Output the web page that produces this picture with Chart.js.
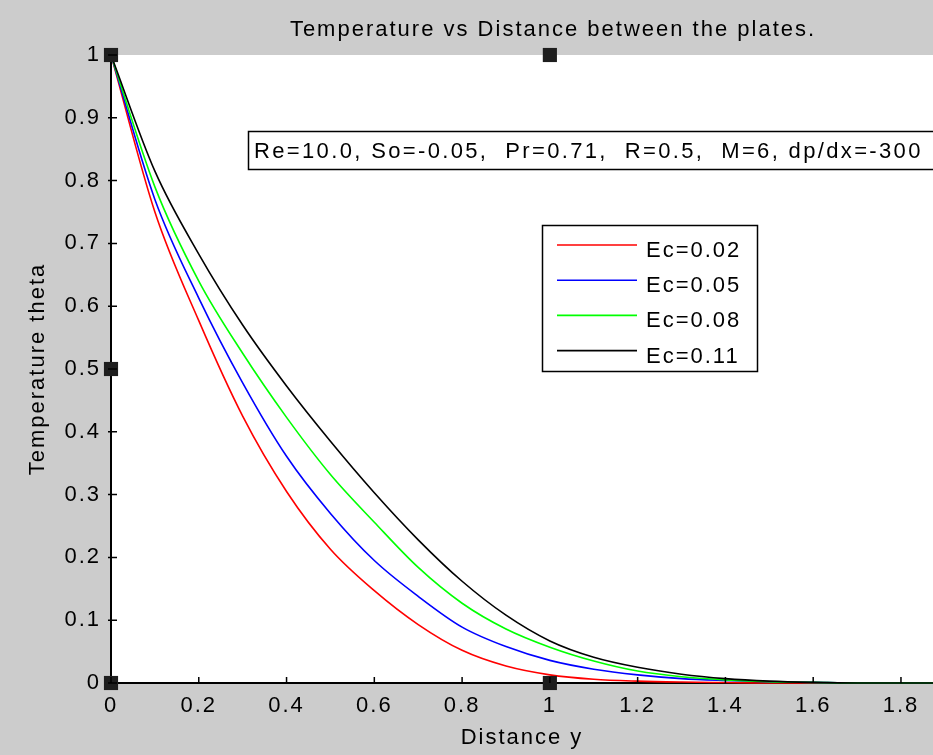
<!DOCTYPE html>
<html><head><meta charset="utf-8">
<script src="https://cdn.jsdelivr.net/npm/chart.js@4"></script>
<style>html,body{margin:0;padding:0;background:#cccccc;overflow:hidden}</style>
</head><body>
<div style="width:933px;height:755px;position:relative"><canvas id="c" width="933" height="755"></canvas></div>
<script>
// ---- data ----
const xValues = [0,0.1,0.2,0.3,0.4,0.5,0.6,0.7,0.8,0.9,1.0,1.1,1.2,1.3,1.4,1.5,1.6,1.7,1.8,1.873];
const thetaEc002 = [1,0.75,0.577,0.425,0.305,0.213,0.147,0.093,0.052,0.027,0.013,0.006,0.003,0.0015,0.0007,0,0,0,0,0];
const thetaEc005 = [1,0.77,0.613,0.478,0.361,0.27,0.195,0.138,0.089,0.058,0.036,0.022,0.013,0.007,0.004,0.002,0.001,0,0,0];
const thetaEc008 = [1,0.79,0.64,0.525,0.423,0.332,0.256,0.184,0.127,0.086,0.057,0.035,0.019,0.01,0.005,0.002,0.001,0,0,0];
const thetaEc011 = [1,0.815,0.683,0.57,0.473,0.385,0.303,0.228,0.162,0.108,0.067,0.041,0.025,0.014,0.007,0.003,0.001,0,0,0];
const seriesLabels = ['Ec=0.02','Ec=0.05','Ec=0.08','Ec=0.11'];
const seriesColors = ['#ff0000','#0000ff','#00ff00','#000000'];
const xTicks = [0,0.2,0.4,0.6,0.8,1,1.2,1.4,1.6,1.8];
const xTickLabels = ['0','0.2','0.4','0.6','0.8','1','1.2','1.4','1.6','1.8'];
const yTicks = [0,0.1,0.2,0.3,0.4,0.5,0.6,0.7,0.8,0.9,1];
const yTickLabels = ['0','0.1','0.2','0.3','0.4','0.5','0.6','0.7','0.8','0.9','1'];
const handleX = [0,1,0,0,1];
const handleY = [1,1,0.5,0,0];
const chartTitle = 'Temperature vs Distance between the plates.';
const paramText = 'Re=10.0, So=-0.05,  Pr=0.71,  R=0.5,  M=6, dp/dx=-300';
const xTitle = 'Distance y';
const yTitle = 'Temperature theta';

const FONT = '"Liberation Sans", Arial, sans-serif';
Chart.defaults.font.family = FONT;
Chart.defaults.font.size = 22;
Chart.defaults.color = '#000';

const seriesValues = [thetaEc002, thetaEc005, thetaEc008, thetaEc011];
const datasets = seriesValues.map((vals, i) => ({
  label: seriesLabels[i],
  data: xValues.map((x, j) => ({x: x, y: vals[j]})),
  borderColor: seriesColors[i],
  backgroundColor: seriesColors[i],
  borderWidth: 1.6,
  pointRadius: 0,
  cubicInterpolationMode: 'monotone',
  order: 4 - i,
  clip: false
}));
datasets.push({
  label: 'handles',
  data: handleX.map((x, j) => ({x: x, y: handleY[j]})),
  showLine: false,
  pointStyle: 'rect',
  pointRadius: 10,
  pointBackgroundColor: '#1e1e1e',
  pointBorderColor: '#1e1e1e',
  pointBorderWidth: 0,
  order: 0,
  clip: false
});

const spacing = '2px';
const decor = {
  id: 'decor',
  beforeUpdate(chart) { chart.ctx.letterSpacing = spacing; },
  beforeDraw(chart) {
    const ctx = chart.ctx, a = chart.chartArea;
    ctx.save();
    ctx.fillStyle = '#cccccc';
    ctx.fillRect(0, 0, chart.width, chart.height);
    ctx.fillStyle = '#ffffff';
    ctx.fillRect(a.left, a.top, a.right - a.left, a.bottom - a.top);
    ctx.restore();
    ctx.letterSpacing = spacing;
  },
  afterDatasetsDraw(chart) {
    const ctx = chart.ctx, a = chart.chartArea;
    const xs = chart.scales.x, ys = chart.scales.y;
    ctx.save();
    ctx.strokeStyle = '#000';
    ctx.lineWidth = 1.5;
    ctx.beginPath();
    xTicks.forEach(v => { const p = xs.getPixelForValue(v); ctx.moveTo(p, a.bottom); ctx.lineTo(p, a.bottom - 6); });
    yTicks.forEach(v => { const p = ys.getPixelForValue(v); ctx.moveTo(a.left - 3, p); ctx.lineTo(a.left + 6, p); });
    ctx.stroke();

    ctx.fillStyle = '#000';
    ctx.font = '22px ' + FONT;
    ctx.textBaseline = 'middle';
    // title
    ctx.letterSpacing = spacing;
    ctx.textAlign = 'center';
    ctx.fillText(chartTitle, 553, 30);
    // parameter box
    ctx.textAlign = 'left';
    ctx.fillStyle = '#fff';
    ctx.fillRect(248, 131, 700, 39);
    ctx.strokeStyle = '#000';
    ctx.lineWidth = 1.5;
    ctx.strokeRect(248.5, 131.5, 700, 38);
    ctx.fillStyle = '#000';
    ctx.letterSpacing = '2.35px';
    ctx.fillText(paramText, 254, 152);
    ctx.letterSpacing = spacing;
    // legend
    const lx = 542, ly = 225, lw = 215, lh = 146;
    ctx.fillStyle = '#fff';
    ctx.fillRect(lx, ly, lw, lh);
    ctx.strokeStyle = '#000';
    ctx.lineWidth = 1.5;
    ctx.strokeRect(lx + 0.5, ly + 0.5, lw, lh);
    seriesLabels.forEach((lab, i) => {
      const y = 245 + i * 35.2;
      ctx.strokeStyle = seriesColors[i];
      ctx.lineWidth = 1.6;
      ctx.beginPath();
      ctx.moveTo(557, y); ctx.lineTo(637, y);
      ctx.stroke();
      ctx.fillStyle = '#000';
      ctx.fillText(lab, 646, y + 6);
    });
    ctx.restore();
  }
};

new Chart(document.getElementById('c'), {
  type: 'line',
  data: { datasets },
  options: {
    responsive: false,
    animation: false,
    events: [],
    layout: { autoPadding: false, padding: { top: 55, right: 0, left: 0, bottom: 0 } },
    plugins: { legend: { display: false }, title: { display: false }, tooltip: { enabled: false } },
    scales: {
      x: {
        type: 'linear', min: 0, max: 1.873,
        afterBuildTicks: s => { s.ticks = xTicks.map(v => ({value: v})); },
        afterFit: s => { s.height = 72; s.paddingLeft = 0; s.paddingRight = 0; },
        grid: { display: false },
        border: { display: true, color: '#000', width: 2 },
        ticks: { padding: 2, maxRotation: 0, autoSkip: false, font: { size: 22 },
                 callback: (v, i) => xTickLabels[i] },
        title: { display: true, text: xTitle, padding: { top: 0, bottom: 4 }, font: { size: 22 } }
      },
      y: {
        type: 'linear', min: 0, max: 1,
        afterBuildTicks: s => { s.ticks = yTicks.map(v => ({value: v})); },
        afterFit: s => { s.width = 111; s.paddingTop = 0; s.paddingBottom = 0; },
        grid: { display: false },
        border: { display: true, color: '#000', width: 2 },
        ticks: { padding: 2, autoSkip: false, font: { size: 22 },
                 callback: (v, i) => yTickLabels[i] },
        title: { display: true, text: yTitle, padding: { top: 25, bottom: 0 }, font: { size: 22 } }
      }
    }
  },
  plugins: [decor]
});
</script>
</body></html>
